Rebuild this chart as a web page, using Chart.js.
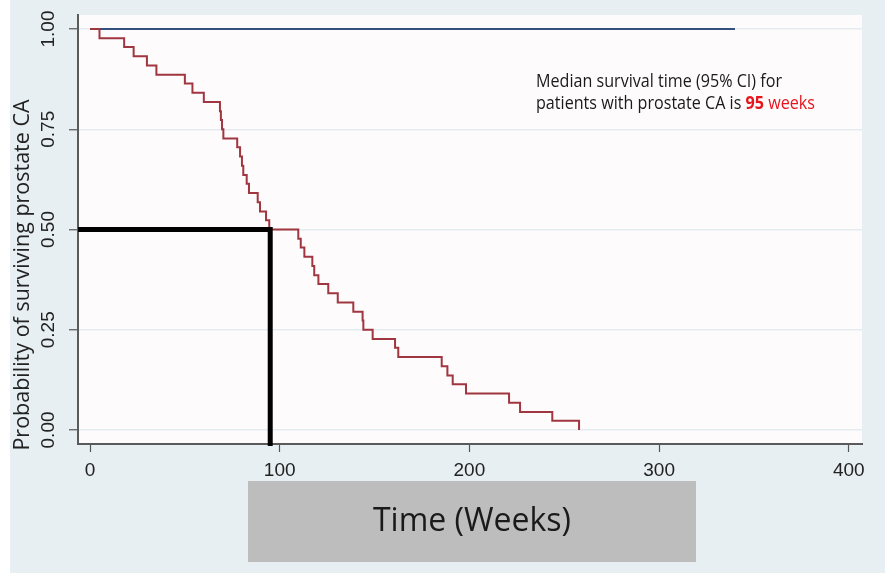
<!DOCTYPE html>
<html lang="en">
<head>
  <meta charset="UTF-8" />
  <title>Kaplan-Meier | Prostate CA</title>
  <script src="https://cdn.jsdelivr.net/npm/chart.js"></script>
  <style>
    html, body { margin: 0; padding: 0; background: #fff; }
    #wrap { width: 885px; height: 583px; }
  </style>
</head>
<body>

<div id="wrap"><canvas id="kmChart" width="885" height="583"></canvas></div>

<script>
  // Valori
  const eventWeeks = [0, 5, 18, 23, 30, 35, 50, 54, 60, 68.5, 69, 69.6, 70.3,
    77.6, 79.1, 80.1, 80.8, 82.6, 83.8, 88.4, 89.6, 92.8, 94.5,
    109.8, 111.1, 113, 117.2, 118.2, 120.4, 125.6, 130.6, 138.8, 143.7, 144.1, 149,
    160.8, 162.5, 185.4, 188.4, 191.2, 198.2, 220.9, 226.7, 243.7, 257.8];
  const survival = [1.000, 0.977, 0.955, 0.932, 0.909, 0.886, 0.864, 0.841, 0.818, 0.795, 0.773, 0.750, 0.727,
    0.705, 0.682, 0.659, 0.636, 0.614, 0.591, 0.568, 0.545, 0.523, 0.500,
    0.477, 0.455, 0.432, 0.409, 0.386, 0.364, 0.341, 0.318, 0.295, 0.273, 0.250, 0.227,
    0.205, 0.182, 0.159, 0.136, 0.114, 0.091, 0.068, 0.045, 0.023, 0.000];
  const refWeeks = [0, 340];
  const refLevel = [1.0, 1.0];
  const medianWeeks = 95;
  const medianSurvival = 0.5;
  const xTicks = [0, 100, 200, 300, 400];
  const yTicks = [0, 0.25, 0.5, 0.75, 1];
  const yTickLabels = ['0.00', '0.25', '0.50', '0.75', '1.00'];

  const X_MIN = -6.33, X_MAX = 406.96;
  const Y_MIN = -0.035, Y_MAX = 1.035;

  const kmPoints = eventWeeks.map((t, i) => ({ x: t, y: survival[i] }));
  const refPoints = refWeeks.map((t, i) => ({ x: t, y: refLevel[i] }));
  const medianPoints = [
    { x: X_MIN, y: medianSurvival },
    { x: medianWeeks, y: medianSurvival },
    { x: medianWeeks, y: -0.04 }
  ];

  // Sfondi, etichette asse y, box del titolo x, testo
  const decor = {
    id: 'decor',
    beforeDraw(chart) {
      const { ctx, chartArea: a } = chart;
      ctx.save();
      ctx.fillStyle = '#ffffff';
      ctx.fillRect(0, 0, chart.width, chart.height);
      ctx.fillStyle = '#e8eff2';
      ctx.fillRect(10, 0, chart.width - 10, 573);
      ctx.fillStyle = '#fefbfc';
      ctx.fillRect(a.left, a.top, a.right - a.left, a.bottom - a.top);
      ctx.restore();
    },
    afterDraw(chart) {
      const { ctx } = chart;
      const y = chart.scales.y;
      ctx.save();
      ctx.fillStyle = '#222';
      ctx.textAlign = 'center';
      ctx.textBaseline = 'middle';
      ctx.font = '19px "Liberation Sans"';
      yTicks.forEach((v, i) => {
        ctx.save();
        ctx.translate(49, y.getPixelForValue(v));
        ctx.rotate(-Math.PI / 2);
        ctx.fillText(yTickLabels[i], 0, 0);
        ctx.restore();
      });

      ctx.save();
      ctx.translate(23, 275);
      ctx.rotate(-Math.PI / 2);
      ctx.font = '21.5px "Open Sans"';
      ctx.fillText('Probability of surviving prostate CA', 0, 0);
      ctx.restore();

      // titolo asse x
      ctx.fillStyle = '#bcbdbc';
      ctx.fillRect(248, 481, 448, 81);
      ctx.fillStyle = '#1a1a1a';
      ctx.font = '32px "Open Sans"';
      ctx.fillText('Time (Weeks)', 472, 522);

      // nota mediana
      ctx.textAlign = 'left';
      ctx.textBaseline = 'alphabetic';
      ctx.font = '18px "Open Sans"';
      const line1 = 'Median survival time (95% CI) for';
      const sx = 246 / ctx.measureText(line1).width;
      ctx.save();
      ctx.translate(536, 0);
      ctx.scale(sx, 1);
      ctx.fillStyle = '#1a1a1a';
      ctx.fillText(line1, 0, 86.5);
      const part = 'patients with prostate CA is ';
      ctx.fillText(part, 0, 108.5);
      let px = ctx.measureText(part).width;
      ctx.fillStyle = '#e8141c';
      ctx.font = 'bold 18px "Open Sans"';
      ctx.fillText('95', px, 108.5);
      px += ctx.measureText('95').width;
      ctx.font = '18px "Open Sans"';
      ctx.fillText(' weeks', px, 108.5);
      ctx.restore();
      ctx.restore();
    }
  };

  const ctx = document.getElementById('kmChart').getContext('2d');
  new Chart(ctx, {
    type: 'line',
    data: {
      datasets: [
        {
          data: medianPoints,
          borderColor: '#000',
          borderWidth: 5,
          borderJoinStyle: 'miter',
          pointRadius: 0,
          clip: false
        },
        {
          data: kmPoints,
          stepped: 'before', // orizzontale e poi verticale
          borderColor: '#a0363f',
          borderWidth: 2,
          pointRadius: 0
        },
        {
          data: refPoints,
          borderColor: '#34507f',
          borderWidth: 2,
          pointRadius: 0
        }
      ]
    },
    options: {
      responsive: false,
      animation: false,
      layout: { padding: { left: 0, top: 15, right: 23, bottom: 0 } },
      plugins: { legend: { display: false }, tooltip: { enabled: false } },
      scales: {
        x: {
          type: 'linear',
          min: X_MIN,
          max: X_MAX,
          afterBuildTicks: s => { s.ticks = xTicks.map(v => ({ value: v })); },
          afterFit: s => { s.height = 139; },
          grid: { drawOnChartArea: false, drawTicks: true, tickLength: 8, tickColor: '#555', tickWidth: 1.2 },
          border: { display: true, color: '#5a5a5a', width: 2 },
          ticks: {
            color: '#222',
            font: { family: 'Liberation Sans', size: 19 },
            padding: 7,
            maxRotation: 0,
            callback: v => String(v)
          }
        },
        y: {
          type: 'linear',
          min: Y_MIN,
          max: Y_MAX,
          afterBuildTicks: s => { s.ticks = yTicks.map(v => ({ value: v })); },
          afterFit: s => { s.width = 78; },
          grid: { color: '#e4ecf0', lineWidth: 1.5, drawTicks: true, tickLength: 9, tickColor: '#555', tickWidth: 1.2 },
          border: { display: true, color: '#5a5a5a', width: 2 },
          ticks: { display: false }
        }
      }
    },
    plugins: [decor]
  });
</script>

</body>
</html>
